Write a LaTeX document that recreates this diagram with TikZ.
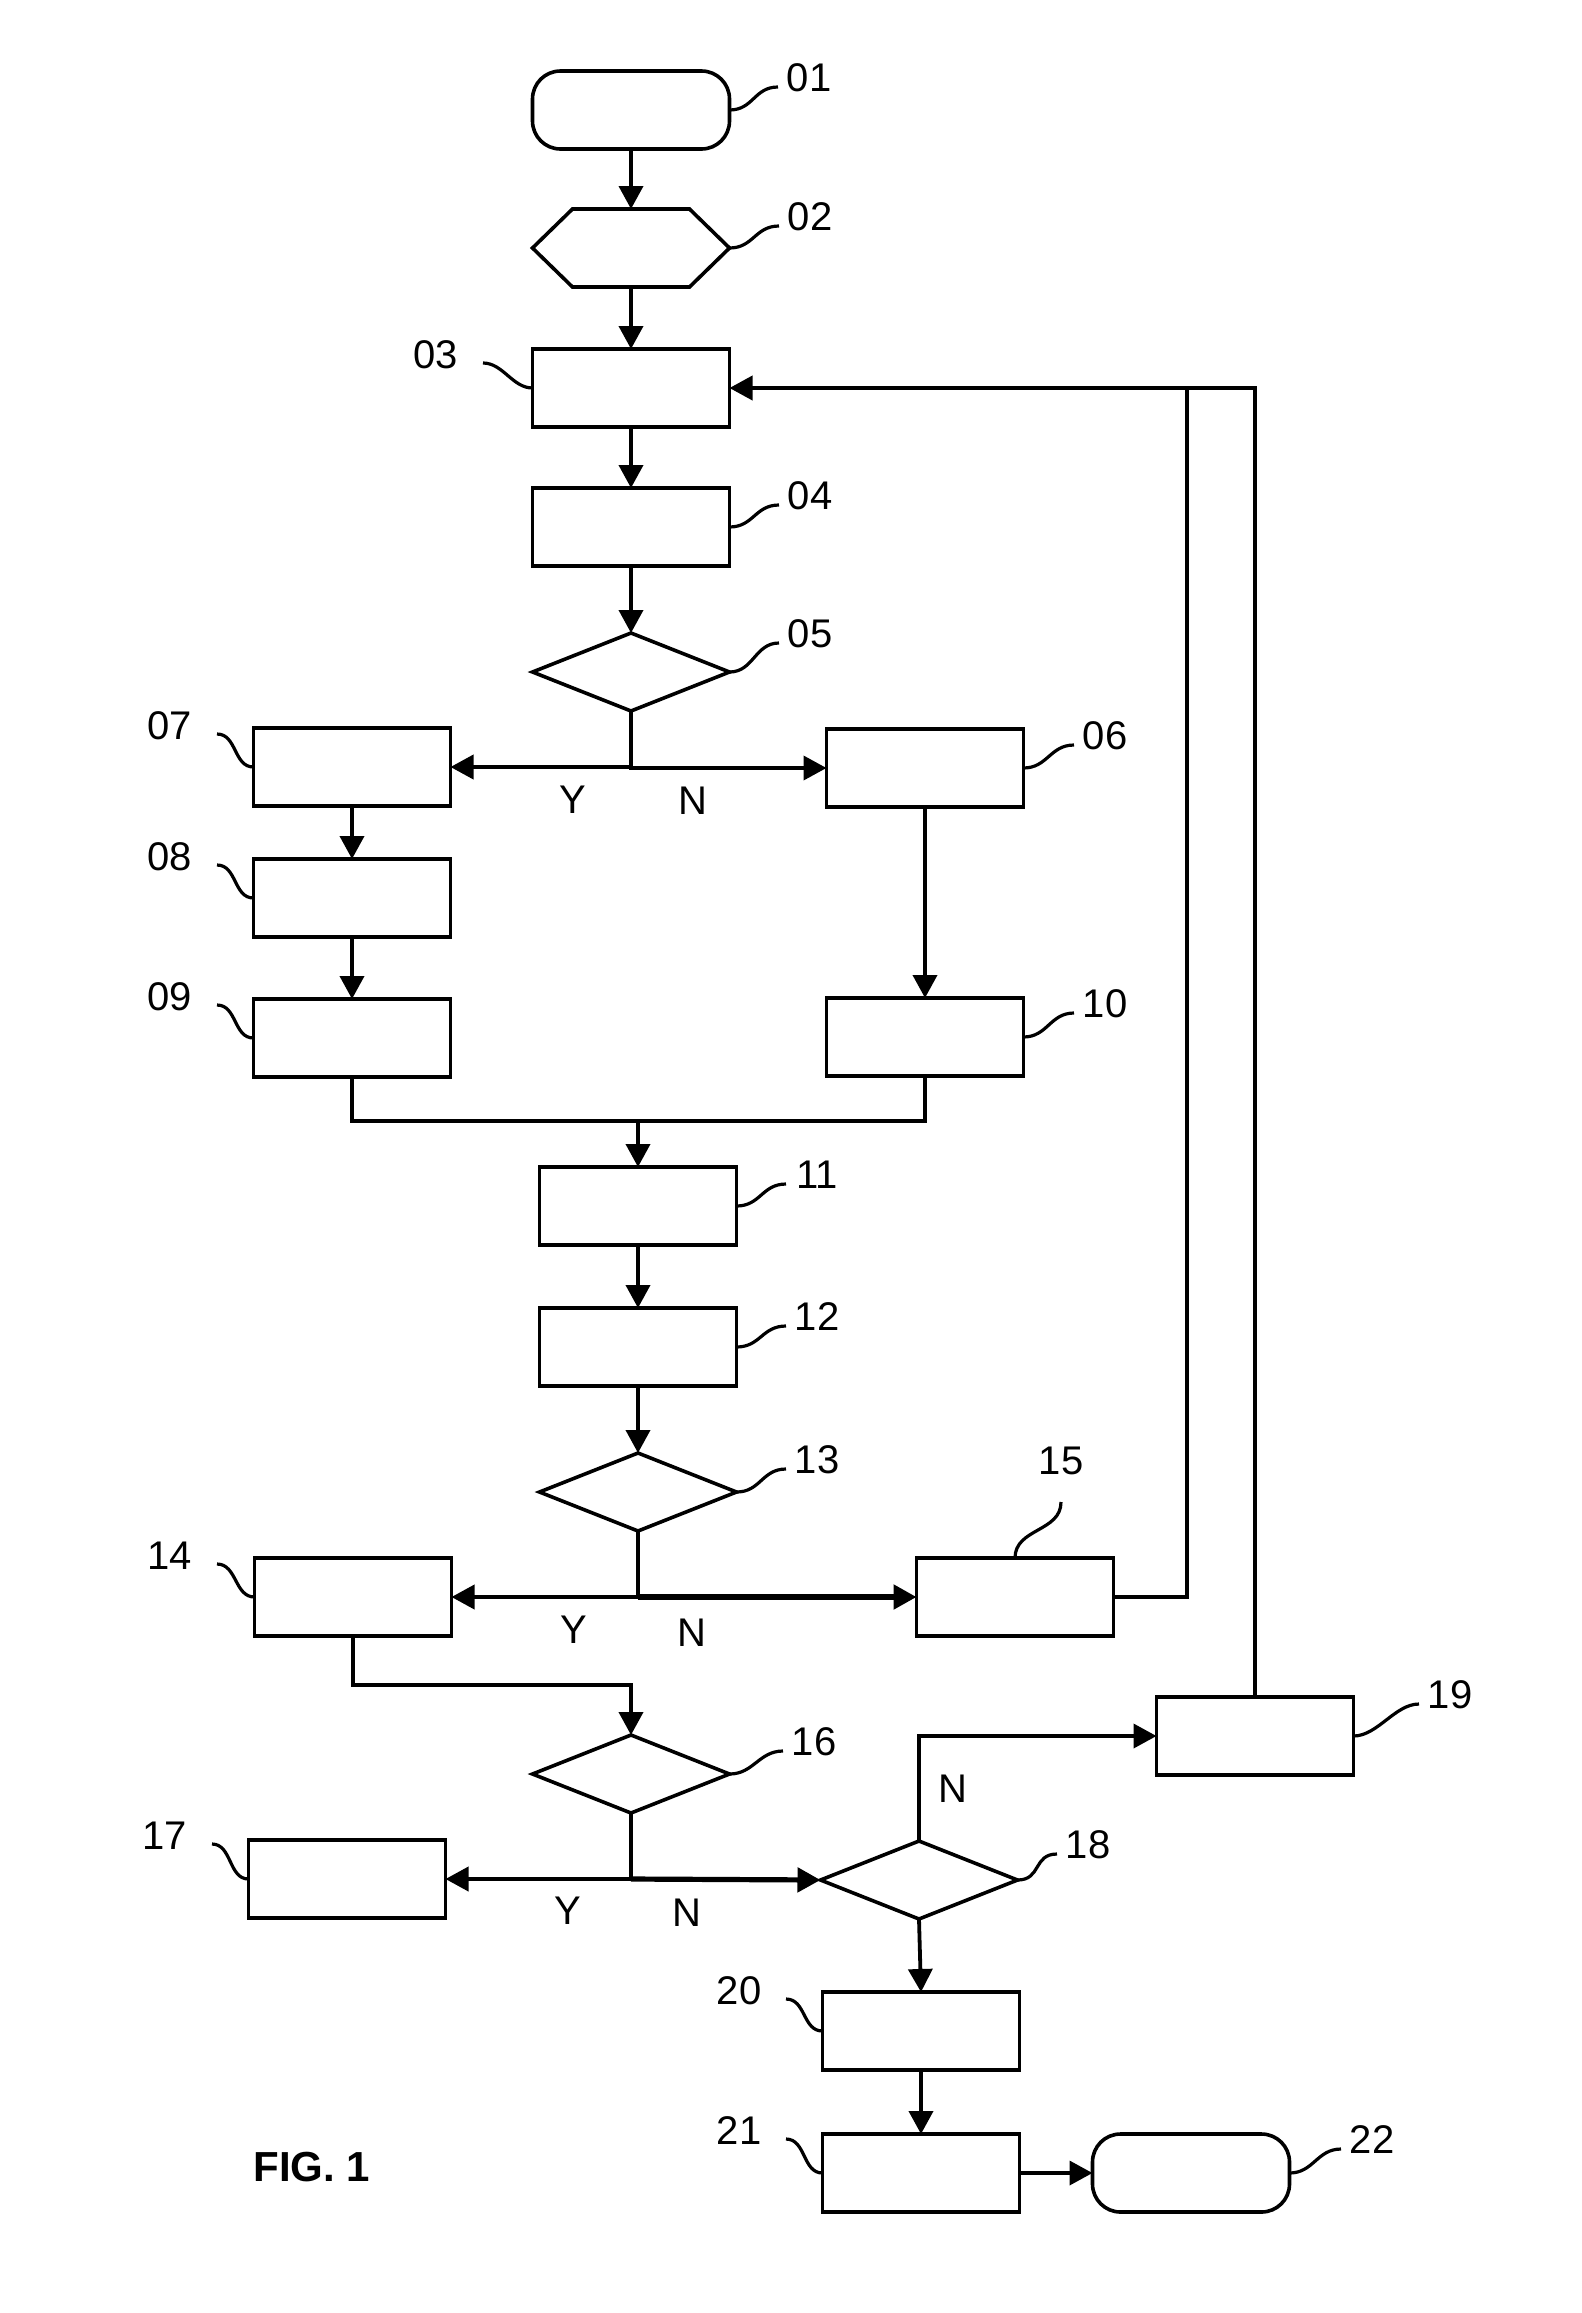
\documentclass[tikz,border=0pt]{standalone}
\usepackage{fontspec}
\setmainfont{Liberation Sans}
\usetikzlibrary{arrows.meta,calc}
\newcommand\myRlead[2]{\draw[lead] (#1.east) .. controls +(24,0) and +(-24,0) .. ($(#2.center)+(-31,9)$);}
\newcommand\myLlead[2]{\draw[lead] (#1.west) .. controls +(-20,0) and +(20,0) .. ($(#2.center)+(47,8)$);}
\begin{document}
\begin{tikzpicture}[x=0.5pt,y=-0.5pt,
 box/.style={draw,line width=1.8pt,minimum width=98.5pt,minimum height=39pt,inner sep=0pt,outer sep=0pt},
 term/.style={box,rounded corners=14pt},
 ghost/.style={minimum width=98.5pt,minimum height=39pt,inner sep=0pt,outer sep=0pt},
 shapeline/.style={line width=1.8pt,line join=miter},
 wire/.style={line width=1.9pt},
 thickwire/.style={line width=2.6pt},
 conn/.style={wire,-{Triangle[length=11.5pt,width=12pt]}},
 thickconn/.style={thickwire,-{Triangle[length=11.5pt,width=12pt]}},
 lead/.style={line width=1.6pt},
 num/.style={font=\fontsize{20pt}{24pt}\selectfont,inner sep=0pt}]

\useasboundingbox (0,0) rectangle (1581,2313);

% shapes
\node[term] (n01) at (631,110) {};
\node[ghost] (n02) at (631,248) {};
\node[box] (n03) at (631,388) {};
\node[box] (n04) at (631,527) {};
\node[ghost] (n05) at (631,672) {};
\node[box] (n07) at (352,767) {};
\node[box] (n06) at (925,768) {};
\node[box] (n08) at (352,898) {};
\node[box] (n09) at (352,1038) {};
\node[box] (n10) at (925,1037) {};
\node[box] (n11) at (638,1206) {};
\node[box] (n12) at (638,1347) {};
\node[ghost] (n13) at (638,1492) {};
\node[box] (n14) at (353,1597) {};
\node[box] (n15) at (1015,1597) {};
\node[ghost] (n16) at (631,1774) {};
\node[box] (n17) at (347,1879) {};
\node[ghost] (n18) at (919,1880) {};
\node[box] (n19) at (1255,1736) {};
\node[box] (n20) at (921,2031) {};
\node[box] (n21) at (921,2173) {};
\node[term] (n22) at (1191,2173) {};

% hexagon
\draw[shapeline] (n02.west) -- ([xshift=20pt]n02.north west) -- ([xshift=-20pt]n02.north east)
  -- (n02.east) -- ([xshift=-20pt]n02.south east) -- ([xshift=20pt]n02.south west) -- cycle;
% diamonds
\foreach \d in {n05,n13,n16,n18}
  \draw[shapeline] (\d.north) -- (\d.east) -- (\d.south) -- (\d.west) -- cycle;

% reference numerals
\node[num] (l01) at (809,78) {01};
\node[num] (l02) at (810,217) {02};
\node[num] (l03) at (436,355) {03};
\node[num] (l04) at (810,496) {04};
\node[num] (l05) at (810,634) {05};
\node[num] (l06) at (1105,736) {06};
\node[num] (l07) at (170,726) {07};
\node[num] (l08) at (170,857) {08};
\node[num] (l09) at (170,997) {09};
\node[num] (l10) at (1105,1004) {10};
\node[num] (l11) at (817,1175) {11};
\node[num] (l12) at (817,1317) {12};
\node[num] (l13) at (817,1460) {13};
\node[num] (l14) at (170,1556) {14};
\node[num] (l15) at (1061,1461) {15};
\node[num] (l16) at (814,1742) {16};
\node[num] (l17) at (165,1836) {17};
\node[num] (l18) at (1088,1845) {18};
\node[num] (l19) at (1450,1695) {19};
\node[num] (l20) at (739,1991) {20};
\node[num] (l21) at (739,2131) {21};
\node[num] (l22) at (1372,2140) {22};

% leaders
\myRlead{n01}{l01}
\myRlead{n02}{l02}
\myLlead{n03}{l03}
\myRlead{n04}{l04}
\myRlead{n05}{l05}
\myRlead{n06}{l06}
\myLlead{n07}{l07}
\myLlead{n08}{l08}
\myLlead{n09}{l09}
\myRlead{n10}{l10}
\myRlead{n11}{l11}
\myRlead{n12}{l12}
\myRlead{n13}{l13}
\myLlead{n14}{l14}
\draw[lead] (n15.north) .. controls +(0,-30) and +(0,30) .. ($(l15.center)+(0,41)$);
\myRlead{n16}{l16}
\myLlead{n17}{l17}
\myRlead{n18}{l18}
\myRlead{n19}{l19}
\myLlead{n20}{l20}
\myLlead{n21}{l21}
\myRlead{n22}{l22}

% connectors
\draw[conn] (n01.south) -- (n02.north);
\draw[conn] (n02.south) -- (n03.north);
\draw[conn] (n03.south) -- (n04.north);
\draw[conn] (n04.south) -- (n05.north);
\draw[conn] (n05.south) |- (n07.east);
\draw[conn] (n05.south) |- (n06.west);
\draw[conn] (n07.south) -- (n08.north);
\draw[conn] (n08.south) -- (n09.north);
\draw[conn] (n06.south) -- (n10.north);
\coordinate (m) at (638,1121);
\draw[wire] (n09.south) |- (m);
\draw[wire] (n10.south) |- (m);
\draw[conn] (m) -- (n11.north);
\draw[conn] (n11.south) -- (n12.north);
\draw[conn] (n12.south) -- (n13.north);
\coordinate (j13) at (n13.south |- n14.east);
\draw[conn] (n13.south) |- (n14.east);
\draw[wire] (n13.south) -- (j13);
\draw[thickconn] (j13) -- (n15.west);
\coordinate (r1) at (1187,388);
\coordinate (r2) at (n19.north |- r1);
\draw[conn] (n15.east) -| (r1) -- (n03.east);
\draw[wire] (n19.north) -- (r2) -- (r1);
\draw[conn] (n14.south) -- ++(0,49) -| (n16.north);
\coordinate (j16) at (n16.south |- n17.east);
\draw[conn] (n16.south) |- (n17.east);
\draw[thickconn] (j16) -- (n18.west);
\draw[conn] (n18.north) |- (n19.west);
\draw[conn] (n18.south) -- (n20.north);
\draw[conn] (n20.south) -- (n21.north);
\draw[conn] (n21.east) -- (n22.west);

% branch labels
\node[num] (y1) at (573,800) {Y};
\node[num] (nn1) at (693,801) {N};
\node[num] (y2) at (574,1630) {Y};
\node[num] (nn2) at (692,1633) {N};
\node[num] (y3) at (568,1911) {Y};
\node[num] (nn3) at (687,1913) {N};
\node[num] (nn4) at (953,1789) {N};

\node[font=\fontsize{21pt}{25pt}\selectfont\bfseries,inner sep=0pt] (fig) at (312,2167) {FIG. 1};
\end{tikzpicture}
\end{document}
